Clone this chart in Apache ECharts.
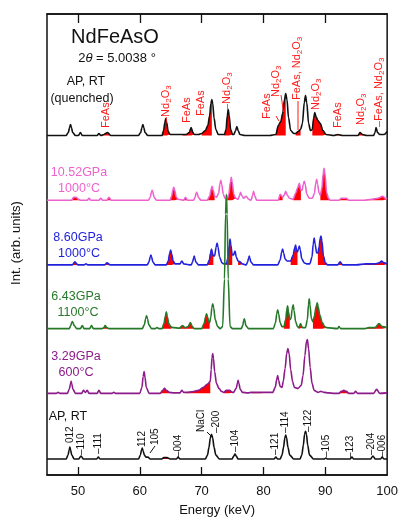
<!DOCTYPE html>
<html>
<head>
<meta charset="utf-8">
<script src="https://cdn.jsdelivr.net/npm/echarts@6/dist/echarts.min.js"></script>
<style>
  html, body { margin: 0; padding: 0; background: #fff; }
  #main { width: 401px; height: 522px; }
</style>
</head>
<body>
<div id="main"></div>
<script>
var FONT = '"Liberation Sans", Arial, Helvetica, sans-serif';

// energy axis
var energyTicks = [50, 60, 70, 80, 90, 100];

// vertical offset of each pattern (stacked plot)
var offsets = [341, 276, 211, 147, 82, 16];
var colors = ["#111111", "#ee62cf", "#2222dd", "#27792a", "#8c1a8a", "#111111"];

// [energy keV, intensity above baseline]
var quenchedAP = [
  [45, 0], [48.1, 0], [48.45, 3], [48.65, 8], [48.8, 11], [48.95, 8], [49.15, 3], [49.6, 0],
  [50.1, 0], [50.4, 3], [50.7, 0], [53.1, 0], [53.4, 2], [53.7, 0],
  [54.2, 1], [54.8, 3], [55.3, 0],
  [59.8, 0], [60.15, 3], [60.35, 8], [60.5, 11], [60.65, 8], [60.85, 3], [61.3, 0],
  [63.6, 0], [63.85, 5], [64.05, 13], [64.2, 17], [64.35, 13], [64.6, 4], [64.9, 1],
  [66.9, 1], [67.5, 1], [68.0, 3], [68.3, 8], [68.6, 3], [68.8, 1], [69.5, 1],
  [70.0, 2], [70.6, 5], [71.0, 10], [71.3, 20], [71.5, 32], [71.65, 36], [71.8, 32], [72.0, 18], [72.3, 6], [72.7, 1],
  [73.7, 1], [73.95, 6], [74.15, 20], [74.3, 26], [74.45, 20], [74.7, 6], [75.0, 1],
  [75.2, 1], [75.5, 5], [75.7, 9], [75.9, 5], [76.2, 1], [77.0, 0], [81.0, 0],
  [82.0, 1], [82.4, 10], [82.8, 14], [83.1, 22], [83.4, 36], [83.6, 42], [83.8, 36], [84.05, 18], [84.4, 5], [84.9, 2],
  [85.2, 2], [85.6, 4], [86.0, 6], [86.3, 12], [86.6, 33], [86.8, 40], [87.0, 33], [87.3, 12], [87.6, 5],
  [87.9, 6], [88.1, 17], [88.3, 23], [88.5, 19], [88.8, 15], [89.2, 12], [89.6, 5], [90.1, 1],
  [91.4, 0], [92.0, 1], [92.8, 0], [95.3, 0], [95.6, 3], [96.0, 1], [96.7, 0],
  [97.8, 0], [98.05, 3], [98.2, 8], [98.45, 3], [98.8, 1], [99.5, 1], [100, 4]
];
var gpa1052 = [
  [45, 0], [49.0, 0], [49.3, 3], [49.7, 3], [50.1, 1], [50.4, 0],
  [51.5, 0], [51.8, 2], [52.1, 0], [53.4, 0], [53.7, 2], [54.0, 0],
  [54.7, 0], [55.0, 3], [55.4, 0],
  [61.4, 0], [61.7, 3], [61.88, 8], [62.0, 10], [62.12, 8], [62.3, 3], [62.7, 0],
  [64.9, 0], [65.15, 4], [65.35, 10], [65.5, 13], [65.65, 10], [65.9, 3], [66.2, 1],
  [67.1, 0], [67.4, 3], [67.7, 0],
  [68.7, 0], [68.95, 3], [69.1, 7], [69.2, 8], [69.3, 7], [69.45, 3], [69.9, 0],
  [70.9, 0], [71.3, 4], [71.55, 11], [71.7, 14], [71.85, 10], [72.1, 4],
  [72.4, 3], [72.75, 7], [72.95, 16], [73.1, 20], [73.25, 16], [73.5, 6], [73.8, 2],
  [74.1, 1], [74.4, 6], [74.65, 18], [74.8, 23], [74.95, 18], [75.2, 6], [75.5, 2],
  [75.9, 1], [76.15, 5], [76.3, 8], [76.45, 5], [76.8, 2], [77.2, 4], [77.6, 1],
  [78.0, 0], [78.25, 5], [78.4, 9], [78.55, 5], [78.9, 0], [81.5, 0],
  [82.4, 0], [82.7, 6], [83.1, 3], [83.35, 5], [83.6, 9], [83.85, 5], [84.2, 2],
  [84.8, 1], [85.2, 7], [85.5, 12], [85.8, 17], [86.05, 10], [86.25, 10],
  [86.45, 16], [86.6, 19], [86.75, 16], [87.0, 6], [87.4, 2],
  [87.9, 2], [88.25, 7], [88.45, 17], [88.6, 21], [88.75, 16], [89.0, 7],
  [89.2, 5], [89.45, 12], [89.65, 26], [89.8, 32], [89.95, 26], [90.2, 8], [90.5, 2], [90.8, 0],
  [92.2, 0], [92.6, 2], [93.4, 2], [93.8, 0],
  [96.3, 0], [97.5, 1], [98.5, 2], [99.3, 4], [99.7, 2], [100, 1]
];
var gpa860 = [
  [45, 0], [49.1, 0], [49.5, 3], [50.0, 0], [51.0, 0], [51.3, 1], [51.6, 0],
  [54.3, 0], [54.7, 2], [55.2, 0],
  [61.2, 0], [61.5, 3], [61.68, 8], [61.8, 10], [61.92, 8], [62.1, 3], [62.5, 0],
  [64.3, 0], [64.6, 4], [64.85, 12], [65.0, 15], [65.15, 11], [65.4, 4], [65.7, 1],
  [66.5, 1], [66.8, 4], [67.1, 1],
  [68.3, 0], [68.55, 3], [68.7, 7], [68.8, 9], [68.9, 7], [69.05, 3], [69.5, 0],
  [70.9, 0], [71.25, 5], [71.45, 12], [71.6, 16], [71.75, 12], [71.9, 9],
  [72.1, 9], [72.35, 18], [72.5, 22], [72.65, 18], [72.9, 8], [73.3, 2], [73.6, 1],
  [74.0, 1], [74.3, 8], [74.47, 20], [74.6, 26], [74.73, 20], [74.95, 10],
  [75.15, 10], [75.4, 14], [75.6, 8], [75.9, 4], [76.2, 3], [76.6, 1],
  [77.2, 0], [77.45, 3], [77.6, 7], [77.7, 9], [77.8, 7], [77.95, 3], [78.4, 0], [81.5, 0],
  [82.3, 0], [82.7, 5], [82.95, 13], [83.1, 16], [83.25, 12], [83.5, 6], [83.8, 4],
  [84.4, 4], [84.8, 10], [85.05, 17], [85.2, 20], [85.35, 15], [85.5, 13],
  [85.65, 16], [85.8, 19], [85.95, 15], [86.2, 6], [86.6, 2], [87.0, 1],
  [87.5, 1], [87.85, 8], [88.05, 21], [88.2, 27], [88.35, 21], [88.6, 12], [88.8, 12],
  [89.0, 18], [89.15, 26], [89.3, 29], [89.45, 24], [89.7, 9], [90.0, 2], [90.4, 0],
  [92.0, 0], [92.4, 3], [92.8, 0],
  [95.0, 0], [96.5, 1], [98.0, 1], [98.7, 2], [99.1, 4], [99.5, 2], [100, 1]
];
var gpa643 = [
  [45, 0], [48.6, 0], [48.85, 3], [49.0, 6], [49.1, 7], [49.2, 6], [49.4, 3], [49.8, 0],
  [50.4, 0], [50.7, 3], [51.0, 0], [51.9, 0], [52.2, 3], [52.5, 0],
  [53.9, 0], [54.2, 1], [54.4, 3], [54.7, 1], [55.0, 0],
  [60.4, 0], [60.75, 4], [60.95, 10], [61.1, 13], [61.25, 10], [61.45, 4], [61.9, 0],
  [62.5, 0], [62.8, 1], [63.1, 0],
  [63.6, 0], [63.9, 5], [64.15, 13], [64.3, 17], [64.45, 12], [64.7, 5], [65.0, 2], [65.4, 1],
  [66.4, 0.5], [66.9, 3], [67.3, 1], [67.8, 2], [68.2, 6], [68.5, 2], [68.8, 0],
  [70.0, 0], [70.4, 5], [70.65, 12], [70.8, 15], [70.95, 12], [71.15, 7], [71.3, 6],
  [71.5, 12], [71.65, 21], [71.8, 25], [71.95, 21], [72.2, 9], [72.6, 2], [73.0, 0],
  [73.4, 2], [73.7, 50], [73.87, 115], [74.0, 135], [74.13, 115], [74.3, 50], [74.6, 2], [75.0, 0],
  [76.4, 0], [76.65, 3], [76.8, 8], [76.9, 10], [77.0, 8], [77.15, 3], [77.6, 0], [81.2, 0],
  [81.6, 0], [81.95, 6], [82.15, 15], [82.3, 19], [82.45, 15], [82.7, 6], [83.0, 2],
  [83.3, 2], [83.6, 9], [83.77, 19], [83.9, 23], [84.05, 17], [84.25, 9],
  [84.45, 10], [84.65, 20], [84.8, 24], [84.95, 18], [85.2, 7], [85.5, 2],
  [85.7, 1], [86.0, 5], [86.3, 1],
  [86.8, 1], [87.1, 9], [87.28, 24], [87.4, 30], [87.52, 24], [87.75, 10], [88.0, 7],
  [88.2, 12], [88.55, 23], [88.7, 26], [88.85, 22], [89.1, 14], [89.5, 6], [89.9, 2], [90.2, 1],
  [92.0, 0], [92.2, 2], [92.5, 0],
  [96.3, 0], [97.0, 1], [98.0, 1], [98.7, 5], [99.2, 2], [100, 1]
];
var gpa329 = [
  [45, 0], [46.5, 0], [46.8, 1], [47.1, 0],
  [48.3, 0], [48.6, 4], [48.78, 9], [48.9, 12], [49.02, 9], [49.2, 4], [49.6, 0],
  [50.6, 0], [50.9, 3], [51.2, 1], [51.5, 3], [51.8, 0],
  [53.1, 0], [53.4, 3], [53.7, 0], [55.5, 0], [55.8, 1], [56.1, 0],
  [60.0, 0], [60.35, 6], [60.55, 17], [60.7, 22], [60.85, 16], [61.05, 6], [61.5, 0],
  [63.3, 0], [63.7, 3], [64.0, 5], [64.3, 3], [64.8, 1], [65.5, 0.5],
  [66.5, 0.5], [66.8, 3], [67.1, 1],
  [67.5, 1], [68.5, 1.5], [69.5, 3], [70.3, 6], [70.9, 9], [71.4, 12],
  [71.55, 24], [71.68, 36], [71.8, 40], [71.92, 35], [72.1, 22], [72.4, 10], [72.8, 5], [73.2, 2],
  [73.6, 1], [74.0, 3], [74.5, 3], [75.0, 1], [75.2, 1],
  [75.3, 1], [75.6, 5], [75.78, 10], [75.9, 13], [76.02, 10], [76.25, 4], [76.6, 1], [77.5, 0.5],
  [78.0, 1], [79.5, 1], [81.2, 1],
  [81.5, 1], [81.9, 6], [82.15, 14], [82.3, 18], [82.45, 13], [82.7, 7], [83.0, 6],
  [83.2, 12], [83.5, 25], [83.75, 40], [83.95, 45], [84.15, 40], [84.4, 24], [84.7, 12], [85.0, 6], [85.6, 5],
  [86.1, 8], [86.4, 18], [86.7, 38], [86.95, 52], [87.1, 54], [87.3, 45], [87.55, 26], [87.85, 10], [88.2, 3],
  [88.8, 1], [89.3, 2], [89.8, 1], [90.5, 0.5], [91.5, 0],
  [92.2, 0], [92.6, 2], [93.0, 3], [93.4, 2], [93.8, 0],
  [94.6, 0], [94.9, 2], [95.2, 0], [97.8, 0], [98.3, 4], [98.8, 0], [100, 0.5]
];
var apRT = [
  [45, 0], [48.1, 0], [48.4, 4], [48.58, 9], [48.7, 12], [48.82, 9], [49.0, 4], [49.4, 0],
  [50.1, 0], [50.5, 3], [50.9, 0], [53.0, 0], [53.3, 2], [53.6, 0],
  [59.8, 0], [60.1, 4], [60.28, 9], [60.4, 11], [60.55, 8], [60.75, 4], [61.0, 2], [61.3, 2], [61.7, 0],
  [63.5, 0], [63.9, 1.5], [64.4, 1.5], [65.0, 0],
  [65.9, 0], [66.2, 2], [66.5, 0],
  [70.6, 0], [70.95, 4], [71.2, 12], [71.4, 21], [71.6, 25], [71.8, 21], [72.0, 12], [72.3, 4], [72.9, 0],
  [74.9, 0], [75.2, 3], [75.4, 5], [75.6, 3], [75.9, 0], [81.7, 0], [82.0, 2], [82.3, 0],
  [82.7, 0], [83.0, 4], [83.25, 12], [83.45, 21], [83.6, 24], [83.75, 21], [83.95, 12], [84.25, 4], [84.9, 0],
  [85.9, 0], [86.2, 4], [86.45, 14], [86.65, 25], [86.8, 28], [86.95, 25], [87.15, 14], [87.45, 4], [88.1, 0],
  [89.8, 0], [90.1, 1], [90.4, 0], [94.0, 0], [94.3, 2], [94.6, 0],
  [97.3, 0], [97.7, 3], [98.1, 0], [98.9, 0], [99.2, 2], [99.5, 0], [100, 0]
];

var spectra = [quenchedAP, gpa1052, gpa860, gpa643, gpa329, apRT];

// energy ranges shaded red (impurity phases)
var redRanges = [
  [[53.7, 55.3], [63.6, 64.9], [66.9, 68.8], [70.0, 71.65], [73.7, 75.0], [82.0, 83.6], [85.2, 86.0], [87.9, 90.1], [91.4, 92.8], [95.3, 96.7]],
  [[49.0, 50.4], [54.7, 55.4], [64.9, 66.2], [67.1, 67.7], [70.9, 72.1], [74.1, 75.5], [82.4, 83.1], [84.8, 86.05], [89.2, 90.8], [92.2, 93.8], [96.3, 100]],
  [[49.1, 50.0], [54.3, 55.2], [64.3, 65.7], [70.9, 71.9], [74.0, 74.95], [75.9, 76.6], [84.4, 85.5], [88.8, 90.4], [92.0, 92.8], [95.0, 100]],
  [[53.9, 55.0], [63.6, 65.4], [66.4, 68.8], [70.0, 71.3], [83.3, 84.25], [85.7, 86.3], [88.0, 90.2], [96.3, 100]],
  [[63.3, 65.5], [67.5, 71.4], [73.6, 75.2], [78.0, 81.2], [92.2, 93.8]],
  [[63.5, 65.0]]
];

// phase labels above the quenched pattern: [energy, bottom px, text]
var phaseLabels = [
  [54.5, 128, "FeAs"], [64.2, 123, "\u2013Nd2O3"], [67.6, 123, "FeAs"], [69.9, 116, "FeAs"],
  [74.1, 110, "\u2013Nd2O3"], [80.6, 119, "FeAs"], [82.0, 97, "Nd2O3"], [85.4, 100, "FeAs, Nd2O3"],
  [88.5, 110, "Nd2O3"], [92.1, 128, "FeAs"], [95.8, 125, "Nd2O3"], [98.7, 127, "\u2013FeAs, Nd2O3"]
];
// hkl labels of the AP, RT pattern
var hklLabels = [
  [48.7, 443, "012"], [50.5, 455, "\u2013110"], [53.3, 454, "\u2013111"], [60.4, 447, "112"],
  [62.5, 445, "105"], [66.2, 457, "\u2013004"], [70.0, 432, "NaCl"], [72.3, 433, "\u2013200"],
  [75.4, 452, "\u2013104"], [81.9, 455, "\u2013121"], [83.6, 433, "\u2013114"], [87.2, 432, "\u2013122"],
  [90.2, 457, "\u2013105"], [94.1, 458, "\u2013123"], [97.5, 455, "\u2013204"], [99.2, 457, "\u2013006"]
];
var sampleLabels = [
  ["AP, RT", "(quenched)"], ["10.52GPa", "1000\u00b0C"], ["8.60GPa", "1000\u00b0C"],
  ["6.43GPa", "1100\u00b0C"], ["3.29GPa", "600\u00b0C"], ["AP, RT", ""]
];

function shift(points, off) {
  return points.map(function (p) { return [p[0], p[1] + off]; });
}

var chart = echarts.init(document.getElementById("main"), null, { renderer: "canvas" });
var series = [];

spectra.forEach(function (pts, i) {
  redRanges[i].forEach(function (r) {
    var seg = pts.filter(function (p) { return p[0] >= r[0] && p[0] <= r[1]; });
    series.push({
      type: "line", data: shift(seg, offsets[i]), symbol: "none",
      smooth: 0.3, smoothMonotone: "x", silent: true, z: 1,
      lineStyle: { width: 0, opacity: 0 },
      areaStyle: { color: "#ff0000", opacity: 1, origin: offsets[i] }
    });
  });
});
spectra.forEach(function (pts, i) {
  series.push({
    type: "line", data: shift(pts, offsets[i]), symbol: "none",
    smooth: 0.3, smoothMonotone: "x", silent: true, z: 3,
    lineStyle: { color: colors[i], width: 1.6 }
  });
});

var option = {
  animation: false,
  backgroundColor: "#fff",
  grid: { left: 47, right: 13, top: 14, bottom: 45, show: true, borderColor: "#111", borderWidth: 1.5 },
  xAxis: [
    {
      type: "value", min: 45, max: 100, position: "bottom",
      name: "Energy (keV)", nameLocation: "middle", nameGap: 29,
      nameTextStyle: { fontFamily: FONT, fontSize: 13, color: "#111" },
      axisLine: { show: true, lineStyle: { color: "#111", width: 1.5 } },
      axisTick: { show: true, inside: true, length: 8, customValues: energyTicks.slice(0, 5), lineStyle: { color: "#111", width: 1.3 } },
      axisLabel: { show: true, customValues: energyTicks, fontFamily: FONT, fontSize: 13, color: "#111", margin: 10 },
      splitLine: { show: false }
    },
    {
      type: "value", min: 45, max: 100, position: "top",
      axisLine: { show: true, lineStyle: { color: "#111", width: 1.5 } },
      axisTick: { show: true, inside: true, length: 9, customValues: energyTicks.slice(0, 5), lineStyle: { color: "#111", width: 1.3 } },
      axisLabel: { show: false },
      splitLine: { show: false }
    }
  ],
  yAxis: { type: "value", min: 0, max: 463, show: false },
  series: series
};
chart.setOption(option);

// annotations
function px(e) { return chart.convertToPixel({ xAxisIndex: 0 }, e); }
function richPhase(t) {
  return t.split("Nd2O3").map(function (part) {
    return part ? "{n|" + part + "}" : "";
  }).join("{n|Nd}{s|2}{n|O}{s|3}");
}
function plainText(x, y, text, size, color, extra) {
  var el = {
    type: "text", x: x, y: y, silent: true, z: 10,
    style: {
      text: text, fill: color, font: size + "px " + FONT,
      textAlign: "center", textVerticalAlign: "middle", align: "center", verticalAlign: "middle"
    }
  };
  if (extra) { for (var k in extra) el[k] = extra[k]; }
  return el;
}

var graphics = [];
phaseLabels.forEach(function (l) {
  graphics.push({
    type: "text", x: px(l[0]), y: l[1], rotation: Math.PI / 2, silent: true, z: 10,
    style: {
      text: richPhase(l[2]), textAlign: "left", textVerticalAlign: "middle", align: "left", verticalAlign: "middle",
      rich: {
        n: { fontFamily: FONT, fontSize: 11, fill: "#ff1a1a", color: "#ff1a1a", lineHeight: 14, verticalAlign: "middle" },
        s: { fontFamily: FONT, fontSize: 8, fill: "#ff1a1a", color: "#ff1a1a", lineHeight: 8, verticalAlign: "bottom" }
      }
    }
  });
});
// leader lines
var leaders = [
  [[298, 130], [298, 101]], [[276, 116], [279, 121]], [[281, 95], [283.5, 112]],
  [[150, 453], [155, 446]], [[207, 432], [211, 436]]
];
leaders.forEach(function (s, i) {
  graphics.push({
    type: "line", silent: true, z: 10,
    shape: { x1: s[0][0], y1: s[0][1], x2: s[1][0], y2: s[1][1] },
    style: { stroke: i < 3 ? "#ff1a1a" : "#111", lineWidth: 1 }
  });
});
hklLabels.forEach(function (l) {
  graphics.push({
    type: "text", x: px(l[0]), y: l[1], rotation: Math.PI / 2, silent: true, z: 10,
    style: {
      text: l[2], fill: "#111", font: "10px " + FONT,
      textAlign: "left", textVerticalAlign: "middle", align: "left", verticalAlign: "middle"
    }
  });
});

graphics.push(plainText(115, 37, "NdFeAsO", 20, "#111"));
graphics.push({
  type: "text", x: 117, y: 58, silent: true, z: 10,
  style: {
    text: "{n|2}{i|\u03b8}{n| = 5.0038 \u00b0}", textAlign: "center", textVerticalAlign: "middle", align: "center", verticalAlign: "middle",
    rich: {
      n: { fontFamily: FONT, fontSize: 13, fill: "#111", color: "#111" },
      i: { fontFamily: FONT, fontSize: 13, fontStyle: "italic", fill: "#111", color: "#111" }
    }
  }
});

var sampleCenters = [[86, 82, 82, 99], [79, 173, 79, 189], [78, 238, 79, 254], [76, 297, 78, 313], [76, 357, 76, 373], [68, 417, 0, 0]];
sampleLabels.forEach(function (s, i) {
  var c = sampleCenters[i];
  graphics.push(plainText(c[0], c[1], s[0], 12.5, colors[i]));
  if (s[1]) graphics.push(plainText(c[2], c[3], s[1], 12.5, colors[i]));
});
graphics.push(plainText(16, 243, "Int. (arb. units)", 13, "#111", { rotation: Math.PI / 2 }));

chart.setOption({ graphic: { elements: graphics } });

window.addEventListener("resize", function () {
  chart.resize();
});
</script>
</body>
</html>
